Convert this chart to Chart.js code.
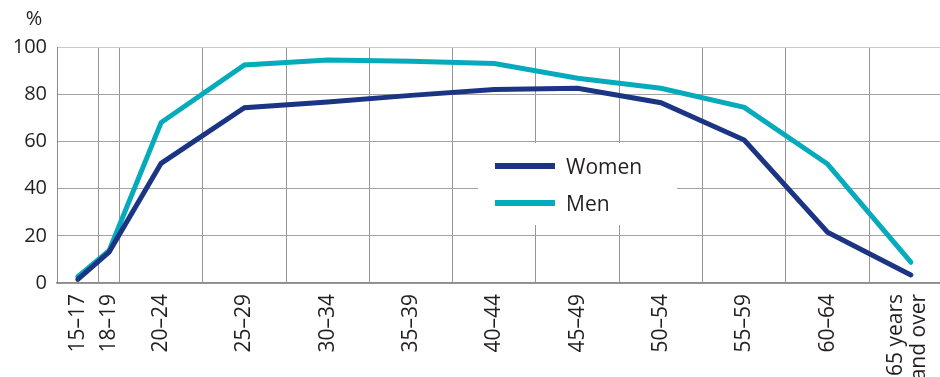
<!DOCTYPE html>
<html>
<head>
<meta charset="utf-8">
<script src="https://cdn.jsdelivr.net/npm/chart.js@4/dist/chart.umd.min.js"></script>
<style>
  html, body { margin: 0; padding: 0; background: #fff; }
  #wrap { width: 940px; height: 377px; }
</style>
</head>
<body>
<div id="wrap"><canvas id="c" width="940" height="377"></canvas></div>
<script>
// Age groups shown on the horizontal axis
const ageGroups = ['15–17', '18–19', '20–24', '25–29', '30–34', '35–39', '40–44',
  '45–49', '50–54', '55–59', '60–64', ['65 years', 'and over']];

// Employment rate, per cent
const women = [1.5, 13.1, 50.7, 74.3, 76.7, 79.5, 82.0, 82.5, 76.4, 60.6, 21.5, 3.4];
const men   = [2.7, 13.7, 68.0, 92.4, 94.5, 94.0, 93.0, 86.8, 82.5, 74.4, 50.4, 8.8];

const yTicks = [0, 20, 40, 60, 80, 100];

// Relative width of each age band on the axis (the two youngest bands are narrower)
const BAND_UNITS = [2, 1, 4, 4, 4, 4, 4, 4, 4, 4, 4, 4];
const bandEdges = [0];
BAND_UNITS.forEach(w => bandEdges.push(bandEdges[bandEdges.length - 1] + w));
const bandCentres = BAND_UNITS.map((w, i) => bandEdges[i] + w / 2);
const X_MAX = 42.4;

const FONT = '"Open Sans", "Noto Sans", sans-serif';
const TEXT = '#231f20';

const toPoints = vals => vals.map((v, i) => ({ x: bandCentres[i], y: v }));

// Two-line labels are nudged left so both lines sit around their band centre
const labelPos = (v, i) => (Array.isArray(ageGroups[i]) ? v - 0.7 : v);

const legendBox = {
  id: 'legendBox',
  afterDraw(chart) {
    const ctx = chart.ctx;
    ctx.save();
    ctx.fillStyle = '#fff';
    ctx.fillRect(478, 143, 199, 82);
    chart.data.datasets.forEach((ds, i) => {
      const y = 166 + i * 37;
      ctx.strokeStyle = ds.borderColor;
      ctx.lineWidth = 6;
      ctx.lineCap = 'butt';
      ctx.beginPath();
      ctx.moveTo(495, y);
      ctx.lineTo(555, y);
      ctx.stroke();
      ctx.fillStyle = TEXT;
      ctx.font = '21px ' + FONT;
      ctx.textBaseline = 'middle';
      ctx.textAlign = 'left';
      ctx.fillText(ds.label, 566, y + 2);
    });
    // unit label above the value axis
    ctx.fillStyle = TEXT;
    ctx.font = '20px ' + FONT;
    ctx.textAlign = 'center';
    ctx.textBaseline = 'middle';
    ctx.fillText('%', 34, 19);
    ctx.restore();
  }
};

new Chart(document.getElementById('c'), {
  type: 'line',
  data: {
    datasets: [
      { label: 'Women', data: toPoints(women), borderColor: '#1b3483', backgroundColor: '#1b3483' },
      { label: 'Men', data: toPoints(men), borderColor: '#05abbc', backgroundColor: '#05abbc' }
    ]
  },
  options: {
    responsive: false,
    animation: false,
    devicePixelRatio: 1,
    layout: { padding: { top: 47, right: 0, left: 0, bottom: 0 } },
    elements: {
      line: { borderWidth: 5, tension: 0, borderCapStyle: 'round', borderJoinStyle: 'miter', fill: false },
      point: { radius: 0, hoverRadius: 0 }
    },
    plugins: { legend: { display: false }, tooltip: { enabled: false } },
    scales: {
      x: {
        type: 'linear',
        min: 0,
        max: X_MAX,
        weight: 0,
        afterBuildTicks: s => { s.ticks = bandCentres.map((v, i) => ({ value: labelPos(v, i) })); },
        afterFit: s => { s.height = 94; s.paddingLeft = 0; s.paddingRight = 0; },
        grid: { display: false, drawTicks: false },
        border: { display: true, color: '#8c8c8c', width: 1.5 },
        ticks: {
          autoSkip: false,
          minRotation: 90,
          maxRotation: 90,
          padding: 11,
          color: TEXT,
          font: { family: FONT, size: 21, lineHeight: 1.1 },
          callback: (v, i) => ageGroups[i]
        }
      },
      xg: {
        type: 'linear',
        position: 'bottom',
        min: 0,
        max: X_MAX,
        weight: 1,
        afterBuildTicks: s => { s.ticks = bandEdges.slice(1, -1).map(v => ({ value: v })); },
        afterFit: s => { s.height = 0; s.paddingLeft = 0; s.paddingRight = 0; },
        grid: { display: true, drawTicks: false, color: '#959595', lineWidth: 1 },
        border: { display: false },
        ticks: { display: false }
      },
      y: {
        min: 0,
        max: 100,
        afterBuildTicks: s => { s.ticks = yTicks.map(v => ({ value: v })); },
        afterFit: s => { s.width = 57; },
        grid: {
          drawTicks: false,
          color: c => (c.tick && c.tick.value === 100 ? '#c8c8c8' : '#a3a3a3'),
          lineWidth: 1
        },
        border: { display: true, color: '#8c8c8c', width: 1 },
        ticks: {
          padding: 10,
          color: TEXT,
          font: { family: FONT, size: 20 }
        }
      }
    }
  },
  plugins: [legendBox]
});
</script>
</body>
</html>
